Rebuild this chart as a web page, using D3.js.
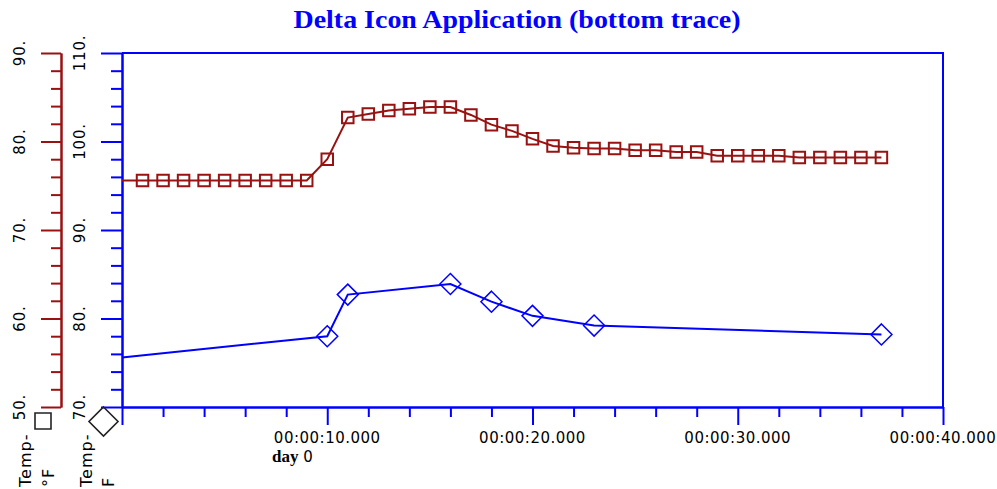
<!DOCTYPE html>
<html>
<head>
<meta charset="utf-8">
<script src="https://cdn.jsdelivr.net/npm/d3@7"></script>
<style>
  body { margin: 0; background: #fff; }
  svg { display: block; }
</style>
</head>
<body>
<svg id="chart" width="997" height="489"></svg>
<script>
// ---- data ----
const chartTitle = "Delta Icon Application (bottom trace)";

// full temperature trace, one sample per second (top trace, left axis)
const sampleTimes = [0, 1, 2, 3, 4, 5, 6, 7, 8, 9,
                     10, 11, 12, 13, 14, 15, 16, 17, 18, 19,
                     20, 21, 22, 23, 24, 25, 26, 27, 28, 29,
                     30, 31, 32, 33, 34, 35, 36, 37];
const sampleTemps = [75.6, 75.6, 75.6, 75.6, 75.6, 75.6, 75.6, 75.6, 75.6, 75.6,
                     78.0, 82.7, 83.1, 83.5, 83.7, 83.9, 83.9, 83.0, 81.9, 81.2,
                     80.3, 79.5, 79.3, 79.2, 79.2, 79.0, 79.0, 78.8, 78.8, 78.4,
                     78.4, 78.4, 78.4, 78.2, 78.2, 78.2, 78.2, 78.2];

// delta-filtered trace: only samples that moved past the threshold (bottom trace)
const deltaTimes = [0, 10, 11, 16, 18, 20, 23, 37];
const deltaTemps = [75.6, 78.0, 82.7, 83.9, 81.9, 80.3, 79.2, 78.2];

// axis ticks
const redMajor = [50, 60, 70, 80, 90];
const blueMajor = [70, 80, 90, 100, 110];
const timeMajor = [0, 10, 20, 30, 40];
const timeLabels = ["", "00:00:10.000", "00:00:20.000", "00:00:30.000", "00:00:40.000"];
const dayLabel = ["day", "0"];
const legendLabels = [["Temp-", "°F"], ["Temp-", "F"]];

// ---- layout ----
const RED = "#991212";
const BLUE = "#0000ff";
const plot = { left: 122, right: 943, top: 53, bottom: 407 };
const redAxisX = 61;

const svg = d3.select("#chart");

const x = d3.scaleLinear().domain([0, 40]).range([plot.left, plot.right]);
const yRed = d3.scaleLinear().domain([50, 90]).range([plot.bottom, plot.top]);
const yBlue = d3.scaleLinear().domain([70, 110]).range([plot.bottom, plot.top]);

const minorOf = (lo, hi, step, majors) =>
  d3.range(lo, hi + step / 2, step).filter(v => !majors.some(m => Math.abs(m - v) < 1e-9));

// title
svg.append("text")
  .attr("x", 517).attr("y", 28)
  .attr("text-anchor", "middle")
  .attr("font-family", "'Liberation Serif', 'DejaVu Serif', serif")
  .attr("font-weight", "bold")
  .attr("font-size", 25)
  .attr("fill", BLUE)
  .attr("textLength", 447)
  .attr("lengthAdjust", "spacingAndGlyphs")
  .text(chartTitle);

// ---- axes ----
function styleAxis(g, color) {
  g.selectAll("path.domain").attr("stroke", color).attr("stroke-width", 2);
  g.selectAll(".tick line").attr("stroke", color).attr("stroke-width", 2);
  g.selectAll(".tick text").remove();
}

// red (left-most) axis
const redG = svg.append("g").attr("transform", `translate(${redAxisX},0)`);
redG.append("g")
  .call(d3.axisLeft(yRed).tickValues(redMajor).tickSize(20).tickSizeOuter(0).tickFormat(""))
  .call(g => styleAxis(g, RED));
redG.append("g")
  .call(d3.axisLeft(yRed).tickValues(minorOf(50, 90, 2, redMajor)).tickSize(10).tickSizeOuter(0).tickFormat(""))
  .call(g => styleAxis(g, RED));

// blue axis
const blueG = svg.append("g").attr("transform", `translate(${plot.left},0)`);
blueG.append("g")
  .call(d3.axisLeft(yBlue).tickValues(blueMajor).tickSize(21).tickSizeOuter(0).tickFormat(""))
  .call(g => styleAxis(g, BLUE));
blueG.append("g")
  .call(d3.axisLeft(yBlue).tickValues(minorOf(70, 110, 2, blueMajor)).tickSize(11).tickSizeOuter(0).tickFormat(""))
  .call(g => styleAxis(g, BLUE));

// time axis
const timeG = svg.append("g").attr("transform", `translate(0,${plot.bottom})`);
timeG.append("g")
  .call(d3.axisBottom(x).tickValues(timeMajor).tickSize(18).tickSizeOuter(0).tickFormat(""))
  .call(g => styleAxis(g, BLUE));
timeG.append("g")
  .call(d3.axisBottom(x).tickValues(minorOf(0, 40, 2, timeMajor)).tickSize(10).tickSizeOuter(0).tickFormat(""))
  .call(g => styleAxis(g, BLUE));

// frame: top and right edges
svg.append("path")
  .attr("d", `M${plot.left},${plot.top}H${plot.right}V${plot.bottom}`)
  .attr("fill", "none").attr("stroke", BLUE).attr("stroke-width", 2);

// rotated value labels
const labelFont = "'DejaVu Sans', Verdana, sans-serif";
function rotatedLabels(values, scale, baseX) {
  svg.append("g").selectAll("text")
    .data(values).join("text")
    .attr("transform", d => `translate(${baseX},${scale(d)}) rotate(-90)`)
    .attr("text-anchor", "middle")
    .attr("font-family", labelFont)
    .attr("font-size", 15)
    .attr("letter-spacing", 0.8)
    .attr("fill", "#000")
    .text(d => d + ".");
}
rotatedLabels(redMajor, yRed, 25);
rotatedLabels(blueMajor, yBlue, 85);

// time labels
svg.append("g").selectAll("text")
  .data(timeMajor.map((t, i) => ({ t, label: timeLabels[i] })).filter(d => d.label))
  .join("text")
  .attr("x", d => x(d.t)).attr("y", 442.5)
  .attr("text-anchor", "middle")
  .attr("font-family", labelFont)
  .attr("font-size", 15)
  .attr("letter-spacing", 0.5)
  .attr("fill", "#000")
  .text(d => d.label);

const dayText = svg.append("text").attr("x", 272).attr("y", 462).attr("fill", "#000");
dayText.append("tspan")
  .attr("font-family", "'Liberation Serif', 'DejaVu Serif', serif")
  .attr("font-weight", "bold").attr("font-size", 17)
  .text(dayLabel[0]);
dayText.append("tspan")
  .attr("font-family", labelFont).attr("font-size", 15)
  .text(" " + dayLabel[1]);

// ---- series ----
const samples = sampleTimes.map((t, i) => ({ t, v: sampleTemps[i] }));
const deltas = deltaTimes.map((t, i) => ({ t, v: deltaTemps[i] }));

svg.append("path")
  .datum(samples)
  .attr("fill", "none").attr("stroke", RED).attr("stroke-width", 2)
  .attr("d", d3.line().x(d => x(d.t)).y(d => yRed(d.v)));

svg.append("path")
  .datum(deltas)
  .attr("fill", "none").attr("stroke", BLUE).attr("stroke-width", 2)
  .attr("d", d3.line().x(d => x(d.t)).y(d => yBlue(d.v)));

// markers (the sample sitting on the axis at t = 0 carries no icon)
const squarePath = (cx, cy, s) => `M${cx - s / 2},${cy - s / 2}h${s}v${s}h${-s}Z`;
const diamondPath = (cx, cy, r) => `M${cx},${cy - r}L${cx + r},${cy}L${cx},${cy + r}L${cx - r},${cy}Z`;

svg.append("g").selectAll("path")
  .data(samples.filter(d => d.t > 0)).join("path")
  .attr("d", d => squarePath(x(d.t), yRed(d.v), 11.5))
  .attr("fill", "none").attr("stroke", RED).attr("stroke-width", 2);

svg.append("g").selectAll("path")
  .data(deltas.filter(d => d.t > 0)).join("path")
  .attr("d", d => diamondPath(x(d.t), yBlue(d.v), 10.5))
  .attr("fill", "none").attr("stroke", BLUE).attr("stroke-width", 1.5);

// ---- legend (under each value axis) ----
svg.append("path")
  .attr("d", squarePath(43, 421, 16))
  .attr("fill", "#fff").attr("stroke", "#222").attr("stroke-width", 1.6);
svg.append("path")
  .attr("d", diamondPath(103.5, 421.5, 14.5))
  .attr("fill", "none").attr("stroke", "#222").attr("stroke-width", 1.6);

function legendText(lines, baseXs) {
  lines.forEach((line, i) => {
    svg.append("text")
      .attr("transform", `translate(${baseXs[i]},487) rotate(-90)`)
      .attr("font-family", labelFont)
      .attr("font-size", 16)
      .attr("letter-spacing", 1)
      .attr("fill", "#000")
      .text(line);
  });
}
legendText(legendLabels[0], [31, 54]);
legendText(legendLabels[1], [92, 114]);
</script>
</body>
</html>
